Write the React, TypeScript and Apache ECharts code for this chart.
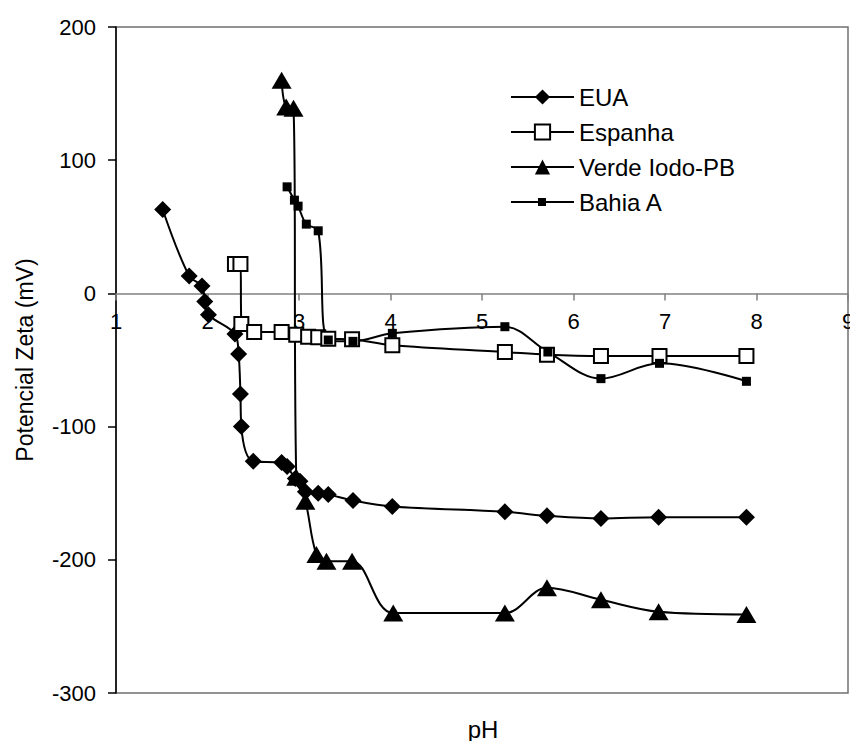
import React, { useEffect, useRef } from "react";
import * as echarts from "echarts";

const seriesNames = ["EUA", "Espanha", "Verde Iodo-PB", "Bahia A"];

const euaPH = [1.51, 1.8, 1.94, 1.97, 2.01, 2.3, 2.34, 2.36, 2.37, 2.5, 2.81, 2.87, 2.96, 3.01, 3.07, 3.21, 3.32, 3.59, 4.02, 5.25, 5.71, 6.3, 6.93, 7.89];
const euaZeta = [63, 13, 5.5, -6, -16, -30.5, -45.5, -75.5, -100, -126, -127, -130, -139, -141, -149, -150, -151, -155.5, -160, -164, -167, -169, -168, -168];

const espPH = [2.3, 2.36, 2.37, 2.51, 2.81, 2.97, 3.1, 3.21, 3.32, 3.58, 4.02, 5.25, 5.71, 6.3, 6.94, 7.89];
const espZeta = [22, 22, -23, -29, -29, -31, -32.5, -33, -34, -34.5, -39, -44, -46, -47, -47, -47];

const verdePH = [2.81, 2.86, 2.94, 2.97, 3.07, 3.19, 3.3, 3.58, 4.03, 5.25, 5.71, 6.3, 6.93, 7.89];
const verdeZeta = [160, 140, 139, -138, -156, -196, -201, -201, -240, -240, -221, -230, -239, -241];

const bahiaPH = [2.87, 2.95, 2.99, 3.08, 3.21, 3.32, 3.59, 4.02, 5.25, 5.72, 6.3, 6.94, 7.89];
const bahiaZeta = [80, 70, 65.5, 52, 47, -35, -36, -30, -25, -44, -64, -52.5, -66];

const xTicks = { min: 1, max: 9, interval: 1 };
const yTicks = { min: -300, max: 200, interval: 100 };
const xTitle = "pH";
const yTitle = "Potencial Zeta (mV)";

const FONT = "Liberation Sans, Arial, sans-serif";

const GRID = { left: 116, top: 27, right: 2, bottom: 48 };
const CHART_H = 741;

function pairs(xs: number[], ys: number[]) {
  return xs.map((x, i) => [x, ys[i]]);
}

export default function App() {
  const ref = useRef<HTMLDivElement>(null);
  useEffect(() => {
    if (!ref.current) return;
    const chart = echarts.init(ref.current, undefined, { renderer: "svg" });
    const lineStyle = { color: "#000", width: 2 };
    const common = {
      type: "line" as const,
      smooth: 0.35,
      lineStyle,
      z: 3,
    };
    // place the x axis on the zero line of the y axis (crossing axis)
    const plotH = CHART_H - GRID.top - GRID.bottom;
    const zeroOffset = -((0 - yTicks.min) / (yTicks.max - yTicks.min)) * plotH;
    chart.setOption({
      animation: false,
      backgroundColor: "#fff",
      grid: {
        ...GRID,
        containLabel: false,
        outerBoundsMode: "none",
        show: true,
        borderColor: "#707070",
        borderWidth: 1.5,
        backgroundColor: "transparent",
      },
      legend: {
        orient: "vertical",
        left: 505,
        top: 80,
        itemWidth: 63,
        itemHeight: 19,
        itemGap: 11,
        textStyle: { fontSize: 24, fontFamily: FONT, color: "#000" },
        data: [
          { name: seriesNames[0] },
          { name: seriesNames[1] },
          { name: seriesNames[2] },
          {
            name: seriesNames[3],
            icon: "path://M0,3L63,3L63,5L0,5Z M27,0L35,0L35,8L27,8Z",
          },
        ],
      },
      graphic: [
        {
          type: "text",
          x: 483,
          y: 729,
          style: {
            text: xTitle,
            fontSize: 24,
            fontFamily: FONT,
            fill: "#000",
            align: "center",
            verticalAlign: "middle",
          },
        },
      ],
      xAxis: {
        type: "value",
        min: xTicks.min,
        max: xTicks.max,
        interval: xTicks.interval,
        position: "bottom",
        offset: zeroOffset,
        axisLine: { onZero: false, lineStyle: { color: "#808080", width: 1.5 } },
        axisTick: { show: true, inside: false, length: 7, lineStyle: { color: "#808080", width: 1.5 } },
        axisLabel: { fontSize: 22, fontFamily: FONT, color: "#000", margin: 17 },
        splitLine: { show: false },
      },
      yAxis: {
        type: "value",
        min: yTicks.min,
        max: yTicks.max,
        interval: yTicks.interval,
        name: yTitle,
        nameLocation: "middle",
        nameGap: 80,
        nameTextStyle: { fontSize: 23, fontFamily: FONT, color: "#000" },
        axisLine: { show: true, onZero: false, lineStyle: { color: "#000", width: 1.5 } },
        axisTick: { show: true, inside: false, length: 8, lineStyle: { color: "#000", width: 1.5 } },
        axisLabel: { fontSize: 22, fontFamily: FONT, color: "#000", margin: 20 },
        splitLine: { show: false },
      },
      series: [
        {
          ...common,
          name: seriesNames[0],
          data: pairs(euaPH, euaZeta),
          symbol: "diamond",
          symbolSize: 17,
          itemStyle: { color: "#000" },
        },
        {
          ...common,
          name: seriesNames[1],
          data: pairs(espPH, espZeta),
          symbol: "rect",
          symbolSize: 14,
          itemStyle: { color: "#fff", borderColor: "#000", borderWidth: 2 },
        },
        {
          ...common,
          name: seriesNames[2],
          data: pairs(verdePH, verdeZeta),
          symbol: "triangle",
          symbolSize: [20, 17],
          itemStyle: { color: "#000" },
        },
        {
          ...common,
          name: seriesNames[3],
          data: pairs(bahiaPH, bahiaZeta),
          symbol: "rect",
          symbolSize: 9,
          itemStyle: { color: "#000" },
        },
      ],
    });
    return () => chart.dispose();
  }, []);
  return (
    <div
      ref={ref}
      style={{ position: "fixed", left: 0, top: 0, width: 850, height: CHART_H, background: "#fff" }}
    />
  );
}
